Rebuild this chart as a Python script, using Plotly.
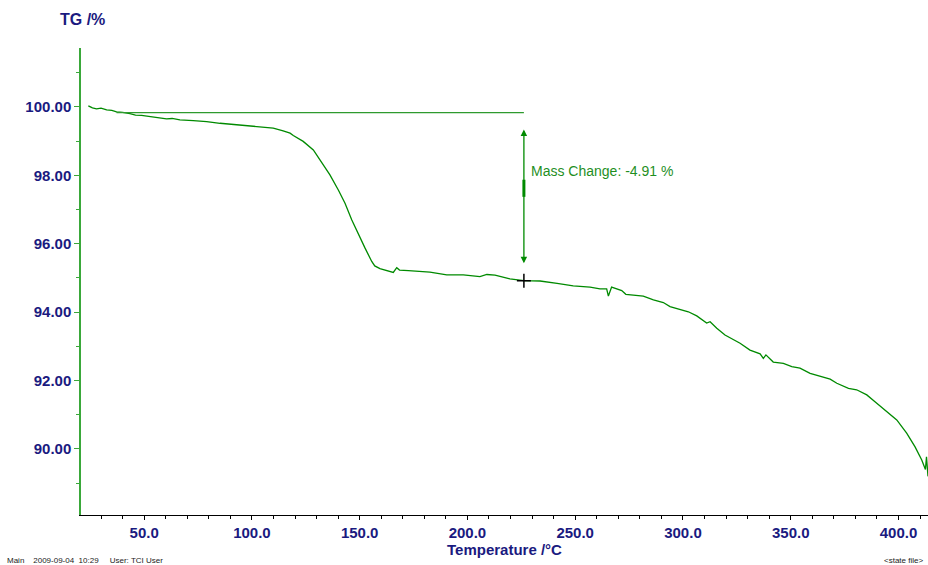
import plotly.graph_objects as go

# ---- data (temperature in °C, TG in %) ----
temperature = [24.1, 26.0, 27.9, 30.0, 32.6, 35.0, 37.2, 40.0, 43.4, 46.0, 48.8, 52.0, 55.8, 60.4, 63.0,
               66.6, 72.8, 76.0, 79.0, 85.2, 91.3, 97.6, 103.7, 109.9, 114.5, 117.7, 119.2, 123.8, 128.5,
               132.4, 136.2, 140.1, 143.2, 146.3, 149.4, 152.5, 155.6, 157.0, 159.4, 162.0, 164.1, 165.6,
               167.2, 168.5, 172.6, 174.9, 182.6, 190.4, 198.1, 205.8, 209.0, 212.8, 219.7, 226.2, 233.7,
               241.6, 249.1, 256.9, 261.5, 264.6, 265.4, 266.9, 271.6, 273.5, 277.0, 281.6, 286.3, 290.9,
               294.0, 298.7, 302.5, 306.4, 311.0, 312.6, 315.7, 319.5, 323.4, 326.5, 331.1, 335.8, 337.3,
               338.5, 341.9, 346.6, 350.5, 354.3, 359.0, 363.6, 368.3, 371.4, 376.8, 380.6, 385.3, 389.1,
               393.8, 399.2, 403.8, 407.7, 410.8, 412.5, 413.0, 413.7]
tg = [100.03, 99.97, 99.94, 99.96, 99.91, 99.90, 99.85, 99.84, 99.80, 99.76, 99.75, 99.72, 99.70, 99.65, 99.66,
      99.62, 99.60, 99.59, 99.57, 99.52, 99.49, 99.44, 99.42, 99.38, 99.30, 99.23, 99.16, 98.99, 98.74,
      98.35, 98.01, 97.57, 97.18, 96.70, 96.26, 95.87, 95.48, 95.35, 95.27, 95.22, 95.18, 95.16,
      95.30, 95.23, 95.21, 95.20, 95.17, 95.09, 95.09, 95.04, 95.10, 95.08, 94.97, 94.92, 94.91,
      94.84, 94.77, 94.73, 94.68, 94.68, 94.47, 94.73, 94.63, 94.52, 94.50, 94.47, 94.36, 94.28,
      94.16, 94.08, 94.01, 93.89, 93.68, 93.72, 93.53, 93.33, 93.21, 93.09, 92.89, 92.78, 92.65,
      92.75, 92.54, 92.50, 92.41, 92.36, 92.21, 92.13, 92.04, 91.92, 91.77, 91.73, 91.58, 91.38,
      91.14, 90.85, 90.46, 90.06, 89.68, 89.40, 89.77, 89.20]

# mass-change evaluation
baseline_tg = 99.83
baseline_start_t = 37.2
eval_t = 226.2
eval_tg = 94.92
arrow_top_tg = 99.38
arrow_bottom_tg = 95.43
arrow_mark = [97.87, 97.37]
label_t = 228.6
label_tg = 98.13
mass_change = eval_tg - baseline_tg

x_ticks = [50, 100, 150, 200, 250, 300, 350, 400]
y_ticks = [90, 92, 94, 96, 98, 100]

GREEN = "#008a00"
NAVY = "#1a1a80"
FONT = "Liberation Sans, Arial, sans-serif"

fig = go.Figure()
fig.add_trace(go.Scatter(x=temperature, y=tg, mode="lines",
                         line=dict(color=GREEN, width=1.3), showlegend=False, hoverinfo="skip"))
# baseline
fig.add_trace(go.Scatter(x=[baseline_start_t, eval_t], y=[baseline_tg, baseline_tg], mode="lines",
                         line=dict(color="#2e9a2e", width=1.3), showlegend=False, hoverinfo="skip"))
# thick mark on arrow
fig.add_trace(go.Scatter(x=[eval_t, eval_t], y=arrow_mark, mode="lines",
                         line=dict(color=GREEN, width=3), showlegend=False, hoverinfo="skip"))
# cross marker
fig.add_trace(go.Scatter(x=[eval_t], y=[eval_tg], mode="markers",
                         marker=dict(symbol="cross-thin", size=10, line=dict(color="black", width=1.5)),
                         showlegend=False, hoverinfo="skip"))

fig.add_annotation(x=eval_t, y=arrow_bottom_tg, ax=eval_t, ay=arrow_top_tg, xref="x", yref="y",
                   axref="x", ayref="y", text="", showarrow=True, arrowhead=2, arrowside="end+start",
                   arrowsize=1, arrowwidth=1.3, arrowcolor=GREEN)
fig.add_annotation(x=label_t, y=label_tg, xref="x", yref="y", xanchor="left", yanchor="middle",
                   text=f"Mass Change: {mass_change:.2f} %", showarrow=False,
                   font=dict(family=FONT, size=14, color="#1f8f1f"))

# positions below are screen pixels (page margin removed via post_script)
fig.add_annotation(x=58, y=20, xref="paper", yref="paper", text="<b>TG /%</b>", showarrow=False,
                   font=dict(family=FONT, size=16, color=NAVY), xanchor="left", yanchor="middle")
fig.add_annotation(x=5, y=560, text="Main    2009-09-04  10:29     User: TCI User", showarrow=False,
                   font=dict(family=FONT, size=8, color="#222222"), xanchor="left", yanchor="middle",
                   xref="paper", yref="paper")
fig.add_annotation(x=925, y=560, text="&lt;state file&gt;", showarrow=False,
                   font=dict(family=FONT, size=8, color="#222222"), xanchor="right", yanchor="middle",
                   xref="paper", yref="paper")

W, H = 928, 565
L, R, T, B = 81, 0, 48, 565 - 515
pw, ph = W - L - R, H - T - B
for a in fig.layout.annotations:
    if a.xref == "paper":
        a.x = (a.x - L) / pw
        a.y = 1 - (a.y - T) / ph

fig.update_layout(
    width=W, height=H, margin=dict(l=L, r=R, t=T, b=B),
    plot_bgcolor="white", paper_bgcolor="white",
    xaxis=dict(range=[20.7, 413.7], tickvals=x_ticks, ticktext=[f"{v:.1f}" for v in x_ticks],
               showgrid=False, zeroline=False, showline=True, linecolor="black", linewidth=1.3,
               ticks="outside", ticklen=4, tickcolor="black",
               minor=dict(dtick=10, tick0=0, ticks="outside", ticklen=3, tickcolor="black"),
               tickfont=dict(family=FONT, size=15, color=NAVY, weight="bold"),
               title=dict(text="Temperature /°C", standoff=1,
                          font=dict(family=FONT, size=15, color=NAVY, weight="bold"))),
    yaxis=dict(range=[88.07, 101.72], tickvals=y_ticks, ticktext=[f"{v:.2f}" for v in y_ticks],
               showgrid=False, zeroline=False, showline=True, linecolor="#3aa83a", linewidth=1.5,
               ticks="outside", ticklen=5, tickcolor="#3aa83a",
               minor=dict(dtick=1, tick0=0, ticks="outside", ticklen=3, tickcolor="#3aa83a"),
               tickfont=dict(family=FONT, size=15, color=NAVY, weight="bold")),
)

fig.write_html("out.html", config={"displayModeBar": False},
               post_script="document.body.style.margin='0';document.body.style.overflow='hidden';")
